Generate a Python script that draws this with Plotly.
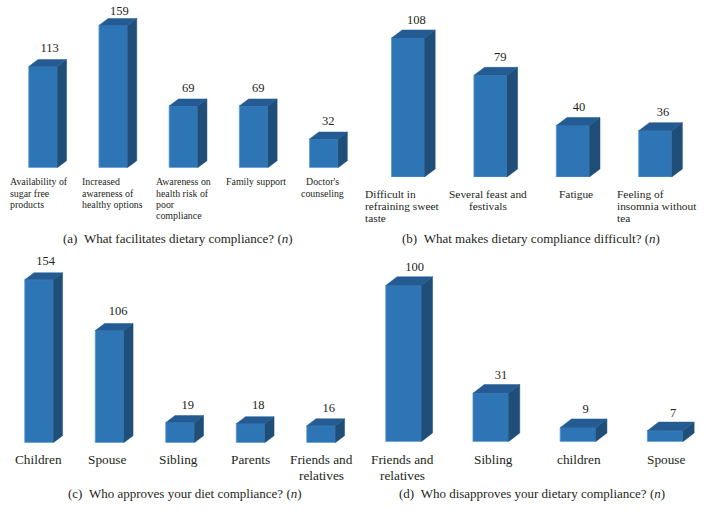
import plotly.graph_objects as go

W, H = 706, 520
FONT = "Liberation Serif"
FRONT, SIDE, TOP, EDGE = "#2e75b6", "#1f4e79", "#235b92", "#5b9bd5"
TEXT = "#231f20"

# ---- data ----
a_categories = ["Availability of<br>sugar free<br>products", "Increased<br>awareness of<br>healthy options",
                "Awareness on<br>health risk of<br>poor<br>compliance", "Family support", "Doctor's<br>counseling"]
a_values = [113, 159, 69, 69, 32]
b_categories = ["Difficult in<br>refraining sweet<br>taste", "Several feast and<br>festivals", "Fatigue",
                "Feeling of<br>insomnia without<br>tea"]
b_values = [108, 79, 40, 36]
c_categories = ["Children", "Spouse", "Sibling", "Parents", "Friends and<br>relatives"]
c_values = [154, 106, 19, 18, 16]
d_categories = ["Friends and<br>relatives", "Sibling", "children", "Spouse"]
d_values = [100, 31, 9, 7]

# ---- layout of each panel, in pixels of the page ----
panels = [
    dict(cats=a_categories, vals=a_values, base=167.7, first=43.0, step=70.2, bw=28.5, scale=0.895, dx=9.3, dy=7,
         fs=9.9, lh=11.4, lab_y=181.7, lab_x=[(8.6, "left"), (81.4, "left"), (154.7, "left"), (225, "left"), (322, "center")],
         sub="(a)&nbsp;&nbsp;What facilitates dietary compliance? (<i>n</i>)", sub_x=178, sub_y=239,
         val_dx=[6.7, 6.1, 4.9, 4.7, 4.5], val_gap=[10.3, 6.7, 10.2, 10.2, 10.1]),
    dict(cats=b_categories, vals=b_values, base=177.0, first=408.0, step=82.4, bw=33.0, scale=1.287, dx=10.7, dy=8,
         fs=11.4, lh=11.6, lab_y=194.3, lab_x=[(364, "left"), (488, "center"), (576, "center"), (615.7, "left")],
         sub="(b)&nbsp;&nbsp;What makes dietary compliance difficult? (<i>n</i>)", sub_x=531, sub_y=239,
         val_dx=[8.3, 9.9, 6.2, 7.8], val_gap=[9.3, 9.6, 9.2, 9.4]),
    dict(cats=c_categories, vals=c_values, base=442.7, first=39.0, step=70.5, bw=28.5, scale=1.058, dx=9.3, dy=7,
         fs=13.3, lh=15.4, lab_y=459.6, lab_x=[(38, "center"), (107.5, "center"), (179, "center"), (250.8, "center"), (321, "center")],
         sub="(c)&nbsp;&nbsp;Who approves your diet compliance? (<i>n</i>)", sub_x=185, sub_y=493.3,
         val_dx=[6.7, 8.5, 7.7, 7.8, 7.7], val_gap=[11.1, 11.3, 9.9, 10.7, 9.8]),
    dict(cats=d_categories, vals=d_values, base=441.7, first=403.5, step=87.2, bw=35.5, scale=1.562, dx=11.3, dy=8.7,
         fs=13.3, lh=15.4, lab_y=459.6, lab_x=[(402.7, "center"), (493.3, "center"), (578.8, "center"), (666.5, "center")],
         sub="(d)&nbsp;&nbsp;Who disapproves your dietary compliance? (<i>n</i>)", sub_x=532, sub_y=493.3,
         val_dx=[11.2, 10.3, 7.8, 7.9], val_gap=[8.5, 8.6, 8.7, 8.3]),
]
panel_x = [(0, 353), (353, 706), (0, 353), (353, 706)]
panel_top = [0, 0, 250, 250]

fig = go.Figure()
annotations = []
for k, p in enumerate(panels):
    suf = "" if k == 0 else str(k + 1)
    xa, ya = "x" + suf, "y" + suf
    left, right = panel_x[k]
    top = panel_top[k]
    fig.layout["xaxis" + suf] = dict(
        domain=[left / W, right / W],
        range=[(left - p["first"]) / p["step"], (right - p["first"]) / p["step"]],
        visible=False, fixedrange=True, anchor=ya)
    fig.layout["yaxis" + suf] = dict(
        domain=[1 - p["base"] / H, 1 - top / H],
        range=[0, (p["base"] - top) / p["scale"]],
        visible=False, fixedrange=True, anchor=xa)
    n = len(p["vals"])
    hw = p["bw"] / p["step"] / 2
    ddx = p["dx"] / p["step"]
    ddy = p["dy"] / p["scale"]
    idx = list(range(n))
    # side and top faces first, built from each value
    for i, v in zip(idx, p["vals"]):
        fig.add_trace(go.Scatter(
            x=[i + hw, i + hw + ddx, i + hw + ddx, i + hw, i + hw], y=[0, ddy, v + ddy, v, 0],
            mode="lines", fill="toself", fillcolor=SIDE, line=dict(color=SIDE, width=0.5),
            xaxis=xa, yaxis=ya, hoverinfo="skip", showlegend=False))
        fig.add_trace(go.Scatter(
            x=[i - hw, i - hw + ddx, i + hw + ddx, i + hw, i - hw], y=[v, v + ddy, v + ddy, v, v],
            mode="lines", fill="toself", fillcolor=TOP, line=dict(color=TOP, width=0.5),
            xaxis=xa, yaxis=ya, hoverinfo="skip", showlegend=False))
    fig.add_trace(go.Bar(
        x=idx, y=p["vals"], width=p["bw"] / p["step"],
        marker=dict(color=FRONT, line=dict(color=EDGE, width=0.8)),
        xaxis=xa, yaxis=ya, showlegend=False))
    # value labels
    fig.add_trace(go.Scatter(
        x=[i + o / p["step"] for i, o in zip(idx, p["val_dx"])],
        y=[v + ddy + g / p["scale"] for v, g in zip(p["vals"], p["val_gap"])],
        text=[str(v) for v in p["vals"]], mode="text", textposition="middle center",
        textfont=dict(family=FONT, size=12.5, color=TEXT),
        xaxis=xa, yaxis=ya, hoverinfo="skip", showlegend=False, cliponaxis=False))
    # category labels, one annotation per line so that the leading can match
    for cat, (lx, anchor) in zip(p["cats"], p["lab_x"]):
        for j, line in enumerate(cat.split("<br>")):
            annotations.append(dict(
                text=line, xref="paper", yref="paper", x=lx / W, y=1 - (p["lab_y"] + j * p["lh"]) / H,
                xanchor=anchor, yanchor="middle", showarrow=False, borderpad=0,
                font=dict(family=FONT, size=p["fs"], color=TEXT)))
    annotations.append(dict(
        text=p["sub"], xref="paper", yref="paper", x=p["sub_x"] / W, y=1 - p["sub_y"] / H,
        xanchor="center", yanchor="middle", showarrow=False, borderpad=0,
        font=dict(family=FONT, size=13, color=TEXT)))

fig.update_layout(
    width=W, height=H, margin=dict(l=0, r=0, t=0, b=0),
    paper_bgcolor="white", plot_bgcolor="rgba(0,0,0,0)",
    showlegend=False, annotations=annotations, barmode="overlay",
)
fig.write_html("out.html", config=dict(displayModeBar=False),
               post_script="document.body.style.margin='0';")
